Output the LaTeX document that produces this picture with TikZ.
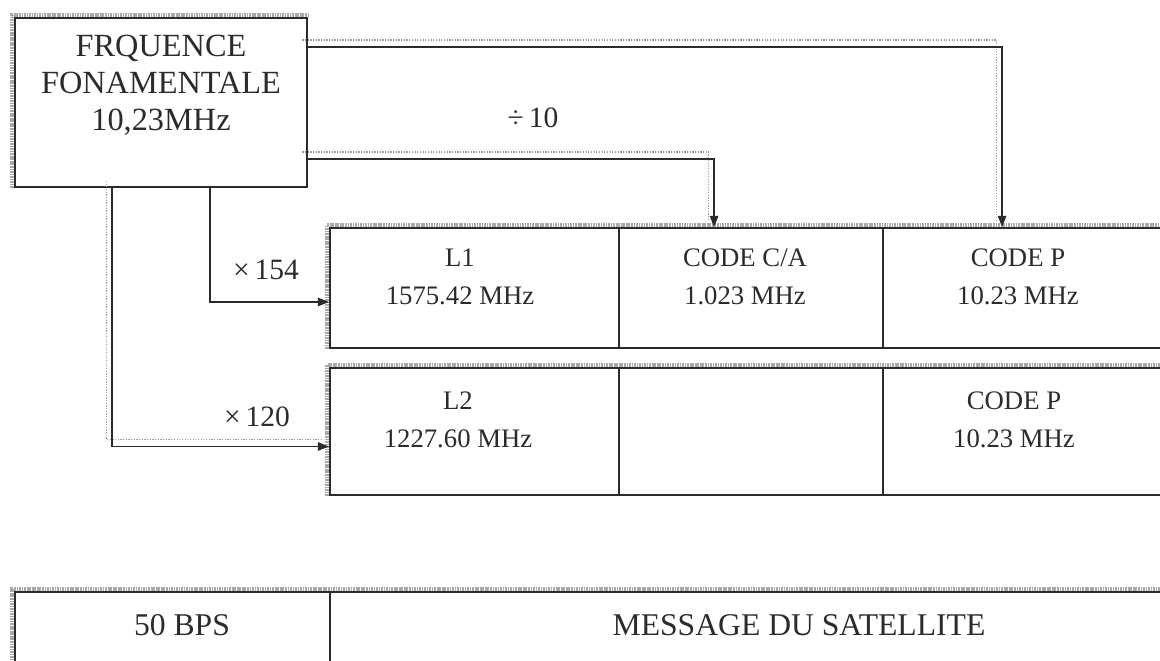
\documentclass[tikz,border=0pt]{standalone}
\usepackage{fontspec}
\setmainfont{Liberation Serif}
\usetikzlibrary{arrows.meta, calc, fit, backgrounds}
\definecolor{inkdark}{HTML}{2B2B2B}
\definecolor{scangray}{HTML}{9A9A9A}
\tikzset{
  % boxes and cells
  srcbox/.style={draw=inkdark, line width=1.3pt, inner sep=0pt},
  cell/.style={draw=inkdark, line width=1.3pt, inner sep=0pt},
  edgeband/.style={draw=scangray!85, line width=3pt,
                   dash pattern=on 1.2pt off 0.6pt},
  % texts
  titletext/.style={font=\fontsize{23}{26.3}\selectfont, text=inkdark, align=center},
  celltext/.style={font=\fontsize{19}{27}\selectfont, text=inkdark, align=center},
  msgtext/.style={font=\fontsize{22.5}{27}\selectfont, text=inkdark},
  factor/.style={font=\fontsize{21}{25}\selectfont, text=inkdark},
  % arrows
  arr/.style={-{Triangle[length=8pt, width=6pt]}, line width=1pt, inkdark},
  shadowarr/.style={arr, preaction={draw=scangray, densely dotted,
                    line width=0.9pt, arrows=-,
                    transform canvas={shift={(-4pt,5pt)}}}},
}
\begin{document}
\begin{tikzpicture}[x=0.025cm, y=-0.025cm]
  \useasboundingbox (0,0) rectangle (1160,661);

  % source box
  \node[srcbox, fit={(15,18) (307,187)}] (fq) {};
  \node[titletext] (fqtxt) at (161,85) {FRQUENCE\\FONAMENTALE\\10,23MHz};

  % L1 row
  \node[cell, fit={(330,228) (619,348)}] (l1) {};
  \node[cell, fit={(619,228) (883,348)}] (ca1) {};
  \node[cell, fit={(883,228) (1175,348)}] (p1) {};
  \node[celltext] (l1txt) at (460,277) {L1\\1575.42 MHz};
  \node[celltext] (ca1txt) at (745,277) {CODE C/A\\1.023 MHz};
  \node[celltext] (p1txt) at (1018,277) {CODE P\\10.23 MHz};

  % L2 row
  \node[cell, fit={(330,368) (619,495)}] (l2) {};
  \node[cell, fit={(619,368) (883,495)}] (gap2) {};
  \node[cell, fit={(883,368) (1175,495)}] (p2) {};
  \node[celltext] (l2txt) at (458,420) {L2\hspace{1.2cm}\\1227.60 MHz};
  \node[celltext] (p2txt) at (1014,420) {CODE P\\10.23 MHz};

  % message row
  \node[cell, fit={(15,592) (330,700)}] (bps) {};
  \node[cell, fit={(330,592) (1175,700)}] (msg) {};
  \node[msgtext] (bpstxt) at (182,625) {50 BPS};
  \node[msgtext] (msgtxt) at (799,625) {MESSAGE DU SATELLITE};

  % scanned edges
  \begin{scope}[on background layer]
    \draw[edgeband] ($(fq.south west)+(-2,0)$) -- ($(fq.north west)+(-2,-2)$)
      -- ($(fq.north east)+(0,-2)$);
    \draw[edgeband] ($(l1.south west)+(-2,0)$) -- ($(l1.north west)+(-2,-2)$)
      -- ($(p1.north east)+(0,-2)$);
    \draw[edgeband] ($(l2.south west)+(-2,0)$) -- ($(l2.north west)+(-2,-2)$)
      -- ($(p2.north east)+(0,-2)$);
    \draw[edgeband] ($(bps.south west)+(-2,0)$) -- ($(bps.north west)+(-2,-2)$)
      -- ($(msg.north east)+(0,-2)$);
  \end{scope}

  % connectors
  \draw[shadowarr] ($(fq.north east)+(0,30)$) -| ($(p1.north west)+(120,0)$);
  \draw[shadowarr] ($(fq.south east)+(0,-29)$) -| ($(ca1.north west)+(96,0)$);
  \draw[arr] ($(fq.south west)+(196,0)$) |- ($(l1.west)+(0,14)$);
  \draw[shadowarr] ($(fq.south west)+(98,0)$) |- ($(l2.west)+(0,15)$);

  \node[factor] (div10) at (533,118) {÷\,10};
  \node[factor] (mul154) at (266,270) {×\,154};
  \node[factor] (mul120) at (257,417) {×\,120};
\end{tikzpicture}
\end{document}
